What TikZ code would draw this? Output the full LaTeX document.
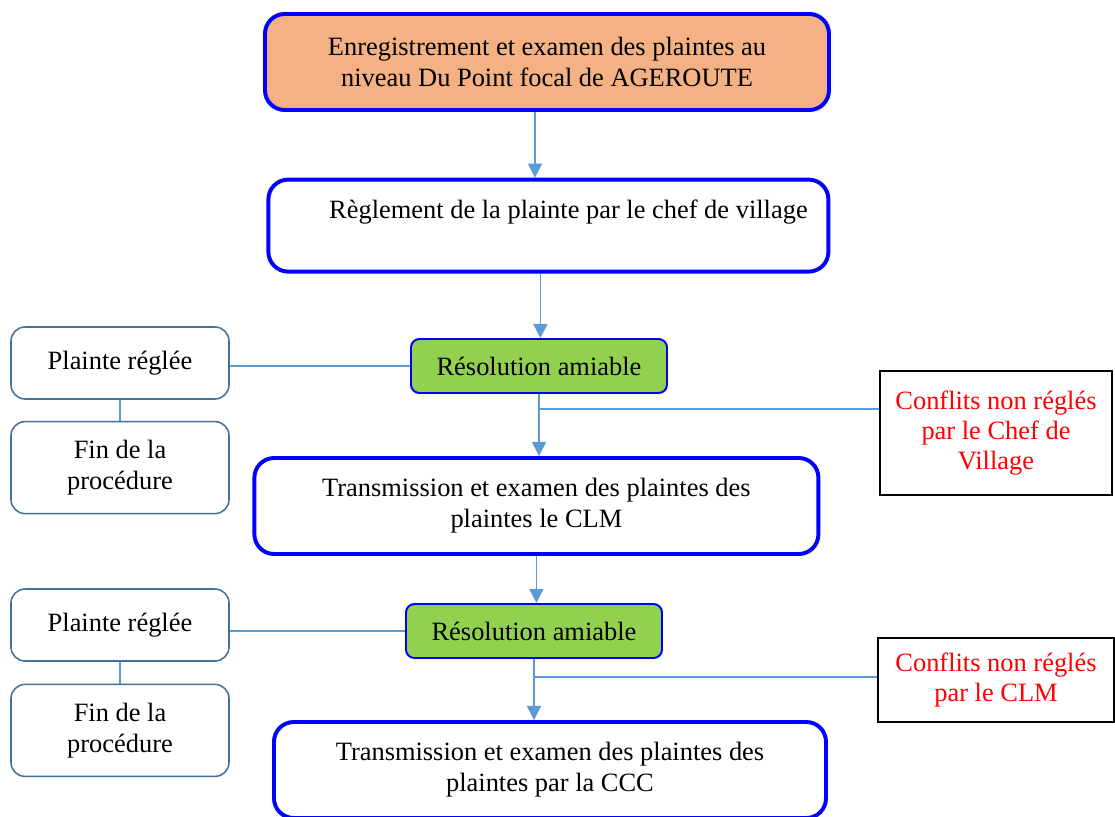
\documentclass[tikz,border=0pt]{standalone}
\usepackage{fontspec}
\setmainfont{Liberation Serif}
\usepackage{xcolor}
\usetikzlibrary{shapes,arrows.meta,calc}

\definecolor{orangebox}{HTML}{F4B183}
\definecolor{vertbox}{HTML}{92D050}
\definecolor{bleuligne}{HTML}{5B9BD5}
\definecolor{bordgris}{HTML}{41719C}

\begin{document}
\begin{tikzpicture}

% Styles des blocs
\tikzstyle{grandbloc} = [rectangle, rounded corners=14pt, minimum width=14.1cm, minimum height=2.4cm, align=center, draw=blue, line width=2.8pt, font=\fontsize{18.8}{22}\selectfont]
\tikzstyle{resolution} = [rectangle, rounded corners=6pt, minimum width=6.4cm, minimum height=1.35cm, align=center, draw=blue, line width=1.4pt, fill=vertbox, font=\fontsize{18.8}{22}\selectfont]
\tikzstyle{issue} = [rectangle, rounded corners=10pt, minimum width=5.45cm, align=center, draw=bordgris, line width=1.1pt, font=\fontsize{18.8}{22}\selectfont]
\tikzstyle{conflit} = [rectangle, align=center, draw=black, line width=1.4pt, text=red, font=\fontsize{18.8}{21.5}\selectfont]
\tikzstyle{fleche} = [draw=bleuligne, line width=1pt, -{Triangle[width=10pt,length=10pt]}]
\tikzstyle{lien} = [draw=bleuligne, line width=1pt]

\useasboundingbox (0,0) rectangle (27.875,-20.4);

% Blocs principaux
\node (enreg) [grandbloc, fill=orangebox] at (13.675,-1.55) {Enregistrement et examen des plaintes au\\niveau Du Point focal de AGEROUTE};
\node (regl) [grandbloc, minimum width=14cm, minimum height=2.3cm, text depth=0.8cm] at (13.71,-5.64) {\hspace{1cm}Règlement de la plainte par le chef de village};
\node (res1) [resolution] at (13.475,-9.15) {Résolution amiable};
\node (clm) [grandbloc] at (13.41,-12.65) {Transmission et examen des plaintes des\\plaintes le CLM};
\node (res2) [resolution] at (13.35,-15.775) {Résolution amiable};
\node (ccc) [grandbloc, minimum width=13.8cm] at (13.75,-19.25) {Transmission et examen des plaintes des\\plaintes par la CCC};

% Blocs lateraux
\node (regle1) [issue, minimum height=1.8cm] at (3.0,-9.075) {Plainte réglée};
\node (fin1) [issue, minimum height=2.3cm] at (3.0,-11.69) {Fin de la\\procédure};
\node (regle2) [issue, minimum height=1.8cm] at (3.0,-15.625) {Plainte réglée};
\node (fin2) [issue, minimum height=2.3cm] at (3.0,-18.26) {Fin de la\\procédure};
\node (conf1) [conflit, minimum width=5.8cm, minimum height=3.1cm] at (24.9,-10.825) {Conflits non réglés\\par le Chef de\\Village};
\node (conf2) [conflit, minimum width=5.9cm, minimum height=2.1cm] at (24.9,-17.0) {Conflits non réglés\\par le CLM};

% Fleches
\draw [fleche] ([xshift=-0.3cm]enreg.south) -- ([xshift=-0.3cm]enreg.south |- regl.north);
\draw [fleche] ([xshift=-0.2cm]regl.south) -- ([xshift=-0.2cm]regl.south |- res1.north);
\draw [fleche] (res1.south) -- (res1.south |- clm.north);
\draw [fleche] (clm.south) -- (clm.south |- res2.north);
\draw [fleche] (res2.south) -- (res2.south |- ccc.north);

% Liaisons
\coordinate (b1) at ($(res1.south)+(0,-0.38)$);
\coordinate (b2) at ($(res2.south)+(0,-0.45)$);
\draw [lien] (res1.west -| regle1.east) -- (res1.west);
\draw [lien] (regle1.south) -- (fin1.north);
\draw [lien] (b1) -- (b1 -| conf1.west);
\draw [lien] (res2.west -| regle2.east) -- (res2.west);
\draw [lien] (regle2.south) -- (fin2.north);
\draw [lien] (b2) -- (b2 -| conf2.west);
\end{tikzpicture}
\end{document}
